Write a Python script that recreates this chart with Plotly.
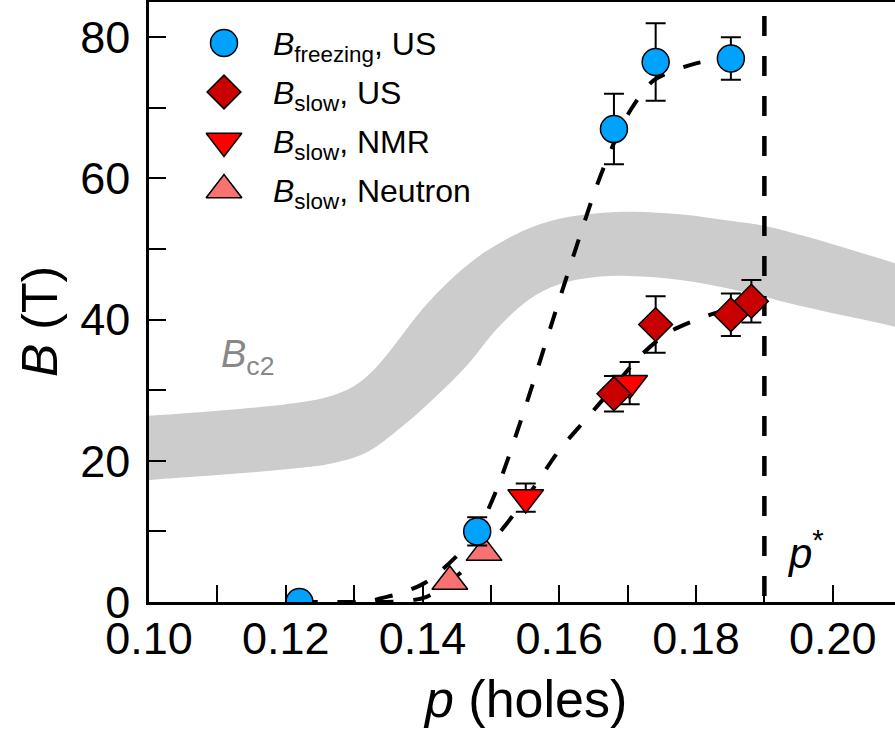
import plotly.graph_objects as go

# ---------------- data ----------------
p_freeze = [0.122, 0.148, 0.168, 0.1741, 0.1851]
B_freeze = [0, 10, 67, 76.5, 77]
B_freeze_err = [0, 2, 5, 5.5, 3]

p_slow_us = [0.168, 0.1741, 0.1851, 0.1881]
B_slow_us = [29.5, 39.3, 40.7, 42.6]
B_slow_us_err = [2.5, 4, 3, 3]

p_slow_nmr = [0.1551, 0.1703]
B_slow_nmr = [14.8, 31.0]
B_slow_nmr_err = [2, 3]

p_slow_neutron = [0.144, 0.149]
B_slow_neutron = [2.9, 7.0]

# dashed guides to the eye
p_fit_freeze = [0.122, 0.132, 0.1338, 0.1367, 0.1405, 0.145, 0.148, 0.151, 0.155,
                0.160, 0.1655, 0.168, 0.1705, 0.1738, 0.180, 0.1851]
B_fit_freeze = [0, 0, 0.5, 1.2, 2.8, 6.5, 10, 16.3, 27.5,
                42.8, 59.0, 65.0, 69.8, 73.9, 76.3, 77.0]

p_fit_slow = [0.122, 0.132, 0.137, 0.1405, 0.144, 0.149, 0.1551, 0.160, 0.164,
              0.168, 0.172, 0.176, 0.181, 0.1881]
B_fit_slow = [0, 0, 0.1, 0.7, 2.9, 7.3, 14.6, 21.5, 26.0,
              30.5, 35.0, 38.2, 40.3, 42.6]

# Bc2 band (upper and lower edges)
p_bc2_upper = [0.095, 0.100, 0.110, 0.120, 0.126, 0.130, 0.133, 0.136, 0.140, 0.1445,
               0.149, 0.155, 0.160, 0.166, 0.171, 0.178, 0.185, 0.1904, 0.196, 0.203,
               0.2091, 0.215]
B_bc2_upper = [26.2, 26.4, 27.1, 28.0, 29.0, 30.6, 33.0, 36.5, 41.5, 46.0,
               49.5, 52.7, 54.3, 55.1, 55.3, 54.9, 54.0, 53.2, 51.8, 49.8,
               48.0, 46.2]
p_bc2_lower = [0.095, 0.100, 0.110, 0.120, 0.127, 0.132, 0.1367, 0.1415, 0.1465, 0.151,
               0.1555, 0.160, 0.166, 0.172, 0.180, 0.188, 0.195, 0.203, 0.2091, 0.215]
B_bc2_lower = [16.9, 17.3, 18.0, 18.8, 19.7, 21.3, 24.6, 28.7, 33.5, 38.8,
               42.8, 45.0, 46.1, 46.1, 45.3, 43.7, 42.0, 40.3, 39.0, 37.6]

p_star = 0.19
p_star_B = [83, 0]

x_tickvals = [0.10, 0.12, 0.14, 0.16, 0.18, 0.20]
x_ticktext = ["0.10", "0.12", "0.14", "0.16", "0.18", "0.20"]
y_tickvals = [0, 20, 40, 60, 80]
y_ticktext = ["0", "20", "40", "60", "80"]

legend_labels = ["<i>B</i><sub>freezing</sub>, US", "<i>B</i><sub>slow</sub>, US",
                 "<i>B</i><sub>slow</sub>, NMR", "<i>B</i><sub>slow</sub>, Neutron"]

# ---------------- styles ----------------
FONT = "Liberation Sans, Arial, sans-serif"
C_FREEZE = "#00A2FF"
C_US = "#C80000"
C_NMR = "#FF0000"
C_NEU = "#F87272"
OUT = dict(color="black", width=1.5)
ERR = dict(type="data", color="black", thickness=2, width=10)

W, H = 895, 735
ML, MR, MT, MB = 149, 0, 2, 133
PW, PH = W - ML - MR, H - MT - MB

def px2paper(px, py):
    return (px - ML) / PW, (H - MB - py) / PH

fig = go.Figure()

# Bc2 band
fig.add_trace(go.Scatter(x=p_bc2_upper, y=B_bc2_upper, mode="lines",
                         line=dict(width=0, shape="spline", color="#CCCCCC"),
                         showlegend=False, hoverinfo="skip"))
fig.add_trace(go.Scatter(x=p_bc2_lower, y=B_bc2_lower, mode="lines", fill="tonexty",
                         fillcolor="#CCCCCC",
                         line=dict(width=0, shape="spline", color="#CCCCCC"),
                         showlegend=False, hoverinfo="skip"))

# dashed guides
for px_, py_ in [(p_fit_freeze, B_fit_freeze), (p_fit_slow, B_fit_slow)]:
    fig.add_trace(go.Scatter(x=px_, y=py_, mode="lines",
                             line=dict(color="black", width=4, dash="18px,20px",
                                       shape="spline", smoothing=0.8),
                             showlegend=False, hoverinfo="skip"))

# p* line
fig.add_trace(go.Scatter(x=[p_star] * len(p_star_B), y=p_star_B, mode="lines",
                         line=dict(color="black", width=4.5, dash="20px,20px"),
                         showlegend=False, hoverinfo="skip"))

# data
fig.add_trace(go.Scatter(x=p_slow_neutron, y=B_slow_neutron, mode="markers",
                         marker=dict(symbol="triangle-up", size=31, color=C_NEU, line=OUT),
                         showlegend=False))
fig.add_trace(go.Scatter(x=p_slow_nmr, y=B_slow_nmr, mode="markers",
                         error_y=dict(array=B_slow_nmr_err, **ERR),
                         marker=dict(symbol="triangle-down", size=31, color=C_NMR, line=OUT),
                         showlegend=False))
fig.add_trace(go.Scatter(x=p_slow_us, y=B_slow_us, mode="markers",
                         error_y=dict(array=B_slow_us_err, **ERR),
                         marker=dict(symbol="diamond", size=26, color=C_US, line=OUT),
                         showlegend=False))
fig.add_trace(go.Scatter(x=p_freeze, y=B_freeze, mode="markers",
                         error_y=dict(array=B_freeze_err, **ERR),
                         marker=dict(symbol="circle", size=27, color=C_FREEZE, line=OUT),
                         showlegend=False))

# manual legend on an overlay axis (0..1)
leg_sym = ["circle", "diamond", "triangle-down", "triangle-up"]
leg_col = [C_FREEZE, C_US, C_NMR, C_NEU]
leg_size = [27, 26, 31, 31]
leg_py = [43, 92, 141, 190]
for i in range(4):
    lx, ly = px2paper(224, leg_py[i])
    fig.add_trace(go.Scatter(x=[lx], y=[ly], xaxis="x2", yaxis="y2", mode="markers",
                             marker=dict(symbol=leg_sym[i], size=leg_size[i],
                                         color=leg_col[i], line=OUT),
                             showlegend=False, hoverinfo="skip"))
    tx, ty = px2paper(271, leg_py[i] + 4)
    fig.add_annotation(x=tx, y=ty, xref="paper", yref="paper", text=legend_labels[i],
                       showarrow=False, xanchor="left", yanchor="middle",
                       font=dict(size=32, color="black", family=FONT))

# labels
ax_, ay_ = px2paper(247, 357)
fig.add_annotation(x=ax_, y=ay_, xref="paper", yref="paper", text="<i>B</i><sub>c2</sub>",
                   showarrow=False, xanchor="center", yanchor="middle",
                   font=dict(size=38, color="#888888", family=FONT))
ax_, ay_ = px2paper(805, 550)
fig.add_annotation(x=ax_, y=ay_, xref="paper", yref="paper", text="<i>p</i><sup>*</sup>",
                   showarrow=False, xanchor="center", yanchor="middle",
                   font=dict(size=42, color="black", family=FONT))
ax_, ay_ = px2paper(40, 322)
fig.add_annotation(x=ax_, y=ay_, xref="paper", yref="paper", text="<i>B</i> (T)",
                   textangle=-90, showarrow=False, xanchor="center", yanchor="middle",
                   font=dict(size=50, color="black", family=FONT))
ax_, ay_ = px2paper(525, 699)
fig.add_annotation(x=ax_, y=ay_, xref="paper", yref="paper", text="<i>p</i> (holes)",
                   showarrow=False, xanchor="center", yanchor="middle",
                   font=dict(size=52, color="black", family=FONT))

fig.update_layout(
    width=W, height=H,
    margin=dict(l=ML, r=MR, t=MT, b=MB, pad=0),
    paper_bgcolor="white", plot_bgcolor="white",
    font=dict(family=FONT, color="black"),
    showlegend=False,
    xaxis=dict(range=[0.10, 0.10 + PW / 6837.5], tickvals=x_tickvals, ticktext=x_ticktext,
               ticks="inside", ticklen=17, tickwidth=2, tickcolor="black",
               minor=dict(dtick=0.01, tick0=0.10, ticks="inside", ticklen=17, tickwidth=2,
                          tickcolor="black", showgrid=False),
               showline=True, linecolor="black", linewidth=2.5, mirror=True,
               showgrid=False, zeroline=False, tickfont=dict(size=45, family=FONT),
               ticklabelstandoff=-5, automargin=False),
    yaxis=dict(range=[0, 85], tickvals=y_tickvals, ticktext=y_ticktext,
               ticks="inside", ticklen=17, tickwidth=2, tickcolor="black",
               minor=dict(dtick=10, tick0=0, ticks="inside", ticklen=17, tickwidth=2,
                          tickcolor="black", showgrid=False),
               showline=True, linecolor="black", linewidth=2.5, mirror=False,
               showgrid=False, zeroline=False, tickfont=dict(size=45, family=FONT),
               ticklabelstandoff=7, automargin=False),
    xaxis2=dict(overlaying="x", range=[0, 1], visible=False, anchor="y2"),
    yaxis2=dict(overlaying="y", range=[0, 1], visible=False, anchor="x2"),
)

fig.write_html("out.html", config={"displayModeBar": False},
               post_script="document.body.style.margin='0';document.body.style.overflow='hidden';")
